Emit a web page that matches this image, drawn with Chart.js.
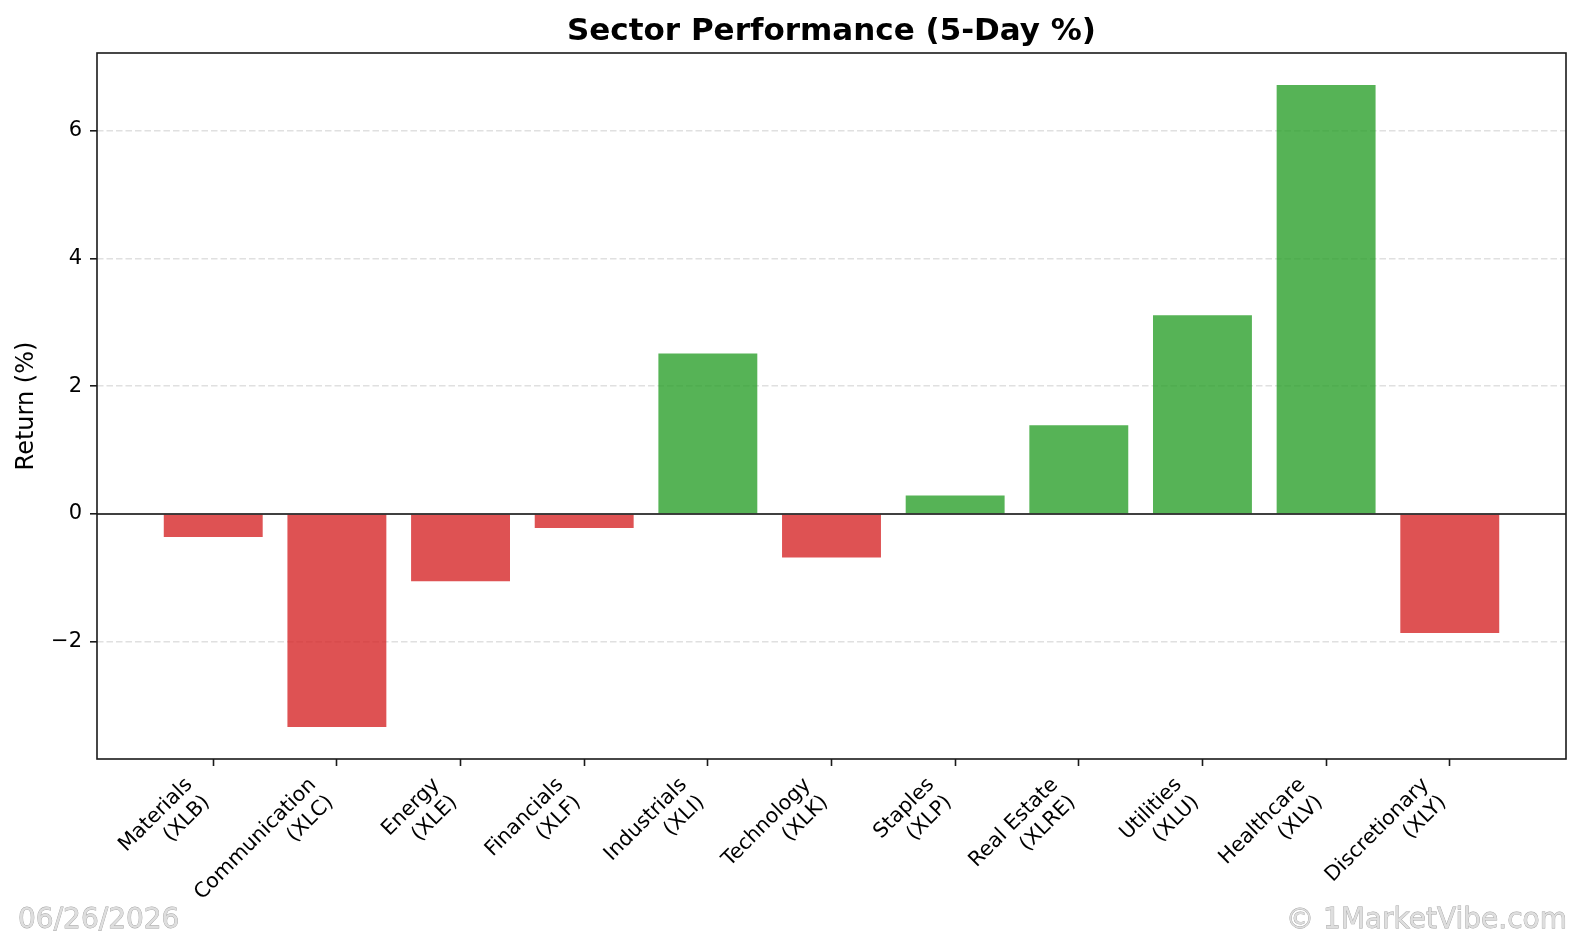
<!DOCTYPE html>
<html>
<head>
<meta charset="utf-8">
<title>Sector Performance (5-Day %)</title>
<script src="https://cdn.jsdelivr.net/npm/chart.js@4.4.1/dist/chart.umd.min.js"></script>
<style>
  html, body { margin: 0; padding: 0; background: #fff; }
  #wrap { width: 1582px; height: 937px; }
</style>
</head>
<body>
<div id="wrap"><canvas id="sectorChart" width="1582" height="937"></canvas></div>
<script>
/* ========== DATA ========== */
const sectors = ["Materials", "Communication", "Energy", "Financials", "Industrials",
  "Technology", "Staples", "Real Estate", "Utilities", "Healthcare", "Discretionary"];
const tickers = ["XLB", "XLC", "XLE", "XLF", "XLI", "XLK", "XLP", "XLRE", "XLU", "XLV", "XLY"];
const returns5d = [-0.36, -3.33, -1.05, -0.22, 2.51, -0.68, 0.29, 1.39, 3.11, 6.71, -1.86];
const yTicks = [-2, 0, 2, 4, 6];

const chartTitle = "Sector Performance (5-Day %)";
const yLabel = "Return (%)";
const dateStamp = "06/26/2026";
const credit = "© 1MarketVibe.com";

/* ========== STYLE ========== */
const GREEN = "rgba(44, 160, 44, 0.8)";
const RED = "rgba(214, 39, 40, 0.8)";
const FONT = "'DejaVu Sans', 'Liberation Sans', sans-serif";

Chart.defaults.font.family = FONT;
Chart.defaults.color = "#000";

// matplotlib-like auto limits (5% margins)
const n = sectors.length;
const xLo = -0.4 - 0.05 * (n - 1 + 0.8);
const xHi = n - 1 + 0.4 + 0.05 * (n - 1 + 0.8);
const yMinData = Math.min(0, ...returns5d);
const yMaxData = Math.max(0, ...returns5d);
const yPad = 0.05 * (yMaxData - yMinData);

/* ========== EXTRA DRAWING (frame, zero line, title, stamps) ========== */
const decorations = {
  id: "decorations",
  afterDraw(chart) {
    const { ctx, chartArea: a, scales } = chart;
    ctx.save();

    // zero line
    const y0 = scales.y.getPixelForValue(0);
    ctx.strokeStyle = "#000";
    ctx.lineWidth = 1.6;
    ctx.beginPath();
    ctx.moveTo(a.left, y0);
    ctx.lineTo(a.right, y0);
    ctx.stroke();

    // axes frame
    ctx.strokeStyle = "#1a1a1a";
    ctx.strokeRect(a.left, a.top, a.right - a.left, a.bottom - a.top);

    // title, centred over the axes
    ctx.fillStyle = "#000";
    ctx.font = "bold 31px " + FONT;
    ctx.textAlign = "center";
    ctx.textBaseline = "alphabetic";
    ctx.fillText(chartTitle, (a.left + a.right) / 2, 39.5);

    // date + credit stamps (light text with a soft grey edge)
    ctx.font = "28px " + FONT;
    ctx.lineWidth = 0.8;
    ctx.strokeStyle = "#a4a4a4";
    ctx.fillStyle = "#dedede";
    ctx.textAlign = "left";
    ctx.strokeText(dateStamp, 18, 928);
    ctx.fillText(dateStamp, 18, 928);
    ctx.textAlign = "right";
    ctx.strokeText(credit, 1567, 928);
    ctx.fillText(credit, 1567, 928);

    ctx.restore();
  }
};

/* ========== CHART ========== */
const ctx = document.getElementById("sectorChart").getContext("2d");
new Chart(ctx, {
  type: "bar",
  data: {
    datasets: [{
      data: returns5d.map((v, i) => ({ x: i, y: v })),
      backgroundColor: returns5d.map((v) => (v >= 0 ? GREEN : RED)),
      borderWidth: 0,
      barPercentage: 0.8,
      categoryPercentage: 1.0
    }]
  },
  options: {
    responsive: false,
    animation: false,
    layout: { padding: { top: 53, right: 16, bottom: 0, left: 0 } },
    plugins: {
      legend: { display: false },
      tooltip: { enabled: false },
      title: { display: false }
    },
    scales: {
      x: {
        type: "linear",
        offset: false,
        min: xLo,
        max: xHi,
        afterBuildTicks: (scale) => {
          scale.ticks = sectors.map((_, i) => ({ value: i }));
        },
        afterFit: (scale) => { scale.height = 178; },
        grid: {
          offset: false,
          drawOnChartArea: false,
          drawTicks: true,
          tickLength: 7,
          tickColor: "#1a1a1a",
          tickWidth: 1.6
        },
        border: { display: false },
        ticks: {
          autoSkip: false,
          minRotation: 45,
          maxRotation: 45,
          padding: 7,
          labelOffset: -24,
          font: { size: 20.6 },
          callback: (value) => [sectors[value], "(" + tickers[value] + ")"]
        }
      },
      y: {
        min: yMinData - yPad,
        max: yMaxData + yPad,
        z: 1,
        afterBuildTicks: (scale) => {
          scale.ticks = yTicks.map((v) => ({ value: v }));
        },
        afterFit: (scale) => { scale.width = 97; },
        grid: {
          color: (c) => (c.tick && c.tick.value === 0 ? "rgba(0,0,0,0)" : "#e0e0e0"),
          lineWidth: 1.6,
          drawTicks: true,
          tickLength: 7,
          tickColor: "#1a1a1a",
          tickWidth: 1.6,
          tickBorderDash: []
        },
        border: { display: false, dash: [6.5, 3] },
        ticks: {
          padding: 8,
          font: { size: 21 },
          callback: (v) => (v < 0 ? "\u2212" + Math.abs(v) : String(v))
        },
        title: {
          display: true,
          text: yLabel,
          font: { size: 24 },
          padding: { top: 12.2, bottom: 0 }
        }
      }
    }
  },
  plugins: [decorations]
});
</script>
</body>
</html>
